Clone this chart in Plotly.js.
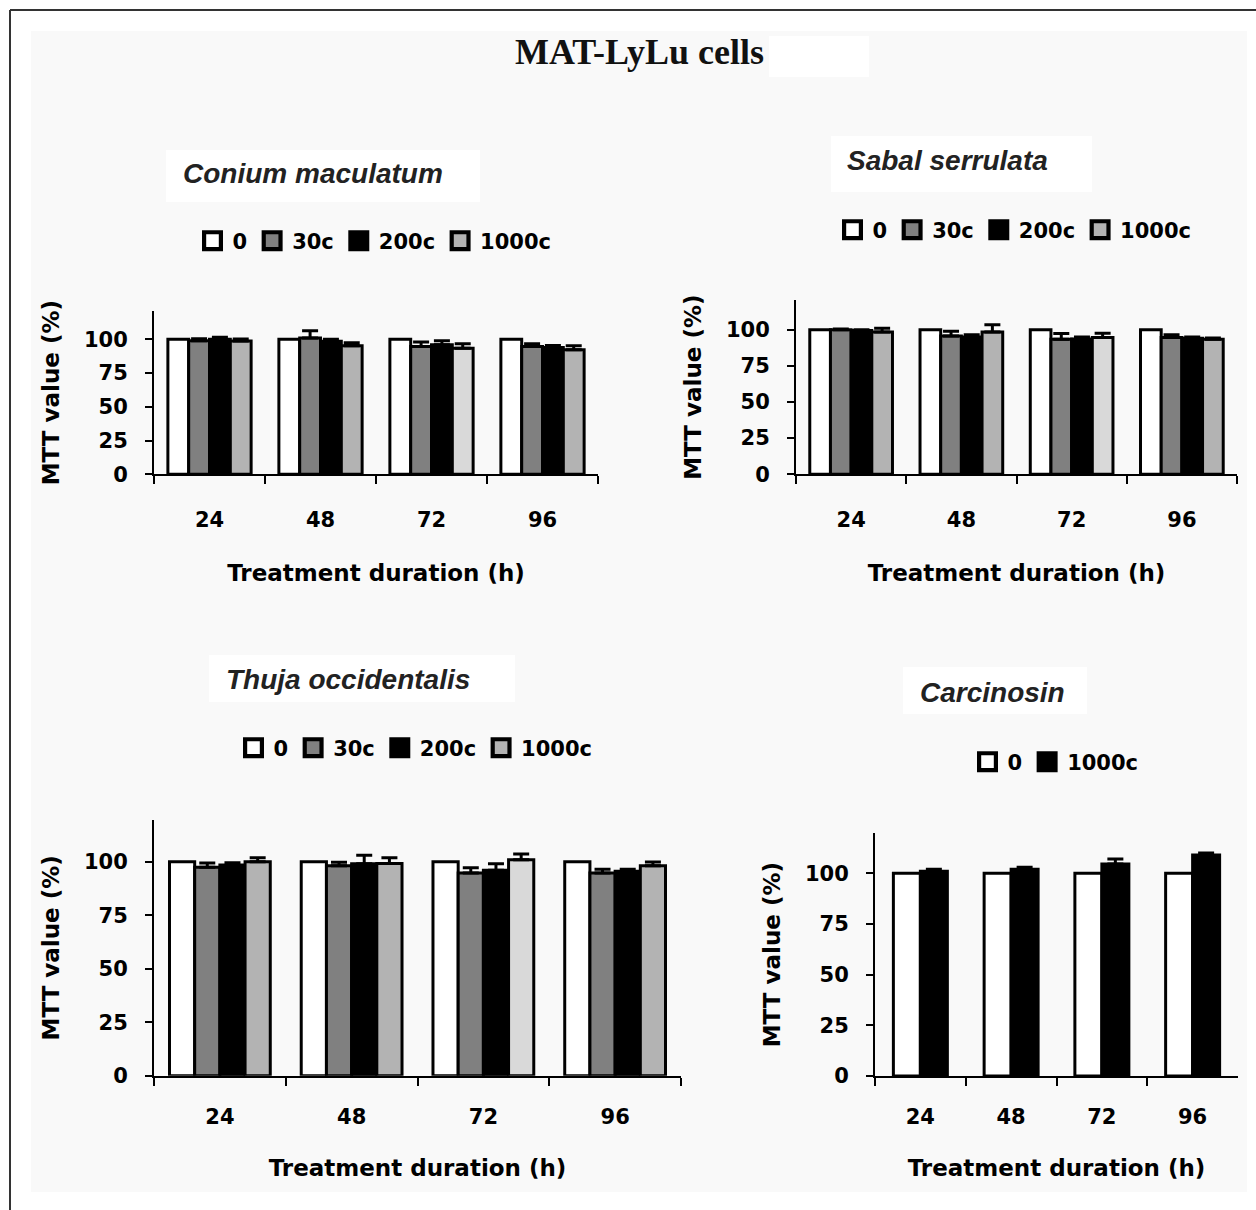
<!DOCTYPE html>
<html>
<head>
<meta charset="utf-8">
<script src="https://cdn.plot.ly/plotly-3.0.1.min.js"></script>
<style>
  html, body { margin: 0; padding: 0; background: #ffffff; }
  #chart { width: 1256px; height: 1210px; }
  .legendpoints path { transform: translate(20px, 0px) scale(1.4); }
</style>
</head>
<body>
<div id="chart"></div>
<script>
// ---------------- DATA ----------------
const mainTitle = 'MAT-LyLu cells';
const categories = ['24', '48', '72', '96'];
const doseNames4 = ['0', '30c', '200c', '1000c'];
const doseNames2 = ['0', '1000c'];

// Conium maculatum
const conium_0 = [100, 100, 100, 100];
const conium_30c = [99, 101, 94.7, 94.7];
const conium_200c = [100, 98.5, 96, 94];
const conium_1000c = [98.8, 95.2, 93.4, 92.2];
const conium_30c_err = [1.5, 5.3, 3.3, 2];
const conium_200c_err = [1.5, 1.5, 3, 1.5];
const conium_1000c_err = [1.5, 2.3, 3.3, 3];

// Sabal serrulata
const sabal_0 = [100, 100, 100, 100];
const sabal_30c = [100, 95.6, 93.3, 94.5];
const sabal_200c = [99.5, 95, 93.5, 94];
const sabal_1000c = [98.4, 98.4, 94.5, 93.3];
const sabal_30c_err = [0.5, 3.3, 4, 2];
const sabal_200c_err = [0.5, 1.5, 1.5, 1];
const sabal_1000c_err = [2.5, 5, 3, 1];

// Thuja occidentalis
const thuja_0 = [100, 100, 100, 100];
const thuja_30c = [97.4, 98.1, 94.7, 94.7];
const thuja_200c = [98.5, 99, 96, 95.5];
const thuja_1000c = [100, 99.2, 100.9, 98.1];
const thuja_30c_err = [2, 1.7, 2.5, 1.8];
const thuja_200c_err = [1, 4, 3, 1];
const thuja_1000c_err = [1.8, 2.6, 2.7, 1.8];

// Carcinosin
const carcinosin_0 = [100, 100, 100, 100];
const carcinosin_1000c = [101, 102, 104.5, 109];
const carcinosin_1000c_err = [1, 1, 2.5, 1];

const panelTitles = ['Conium maculatum', 'Sabal serrulata', 'Thuja occidentalis', 'Carcinosin'];
const xTitle = 'Treatment duration (h)';
const yTitle = 'MTT value (%)';
const yTickVals = [0, 25, 50, 75, 100];

// ---------------- LAYOUT HELPERS ----------------
const W = 1256, H = 1210;
const fx = px => px / W;
const fy = py => 1 - py / H;

const WHITE = '#ffffff', GRAY = '#808080', BLACK = '#000000', LIGHT = '#b3b3b3', LIGHTER = '#d9d9d9';
const TXT = "DejaVu Sans";

// panel boxes (pixels): plot area left, right, top, bottom, y max, group fraction
const panels = [
  {l: 154, r: 598, t: 311, b: 474.3, ymax: 121, g: 0.75, leg: [374.5, 241], tstand: 25, xstand: 34},
  {l: 796, r: 1237, t: 300, b: 474.3, ymax: 120.5, g: 0.75, leg: [1014.5, 230], tstand: 25, xstand: 34},
  {l: 154, r: 681, t: 820, b: 1075.7, ymax: 119.5, g: 0.765, leg: [415.5, 748], tstand: 21, xstand: 32},
  {l: 875, r: 1238, t: 833.3, b: 1076, ymax: 119.7, g: 0.595, leg: [1055.5, 762], tstand: 21, xstand: 32}
];

const panelSeries = [
  {names: doseNames4, vals: [conium_0, conium_30c, conium_200c, conium_1000c],
   errs: [null, conium_30c_err, conium_200c_err, conium_1000c_err],
   colors: [WHITE, GRAY, BLACK, [LIGHT, LIGHT, LIGHTER, LIGHT]]},
  {names: doseNames4, vals: [sabal_0, sabal_30c, sabal_200c, sabal_1000c],
   errs: [null, sabal_30c_err, sabal_200c_err, sabal_1000c_err],
   colors: [WHITE, GRAY, BLACK, [LIGHT, LIGHT, LIGHTER, LIGHT]]},
  {names: doseNames4, vals: [thuja_0, thuja_30c, thuja_200c, thuja_1000c],
   errs: [null, thuja_30c_err, thuja_200c_err, thuja_1000c_err],
   colors: [WHITE, GRAY, BLACK, [LIGHT, LIGHT, LIGHTER, LIGHT]]},
  {names: doseNames2, vals: [carcinosin_0, carcinosin_1000c],
   errs: [null, carcinosin_1000c_err],
   colors: [WHITE, BLACK]}
];

const traces = [];
const layout = {
  width: W, height: H,
  margin: {l: 0, r: 0, t: 0, b: 0, pad: 0, autoexpand: false},
  paper_bgcolor: '#ffffff',
  plot_bgcolor: 'rgba(0,0,0,0)',
  barmode: 'overlay',
  showlegend: true,
  font: {family: TXT, color: '#000'},
  shapes: [],
  annotations: []
};

panels.forEach((p, i) => {
  const n = i + 1;
  const xa = n === 1 ? 'x' : 'x' + n;
  const ya = n === 1 ? 'y' : 'y' + n;
  const legName = n === 1 ? 'legend' : 'legend' + n;
  const ser = panelSeries[i];
  const k = ser.vals.length;
  const bw = p.g / k;
  ser.vals.forEach((v, j) => {
    const tr = {
      type: 'bar', x: categories, y: v, name: ser.names[j],
      xaxis: xa, yaxis: ya, legend: legName,
      width: bw, offset: -p.g / 2 + j * bw,
      marker: {color: ser.colors[j], line: {color: '#000', width: 3}},
      hoverinfo: 'x+y+name'
    };
    if (ser.errs[j]) {
      tr.error_y = {type: 'data', symmetric: false, array: ser.errs[j],
                    arrayminus: ser.errs[j].map(() => 0),
                    color: '#000', thickness: 3, width: 8};
    }
    traces.push(tr);
  });

  const dx = [fx(p.l), fx(p.r)];
  const dy = [fy(p.b), fy(p.t)];
  layout['xaxis' + (n === 1 ? '' : n)] = {
    domain: dx, anchor: ya, type: 'category', range: [-0.5, 3.5],
    showline: true, linecolor: '#000', linewidth: 2, mirror: false,
    ticks: 'outside', tickson: 'boundaries', ticklen: 8, tickwidth: 2, tickcolor: '#000',
    showgrid: false, zeroline: false,
    tickfont: {family: TXT, size: 21, color: '#000', weight: 'bold'},
    ticklabelstandoff: p.tstand,
    automargin: false,
    title: {text: xTitle, font: {family: TXT, size: 23, color: '#000', weight: 'bold'}, standoff: p.xstand}
  };
  layout['yaxis' + (n === 1 ? '' : n)] = {
    domain: dy, anchor: xa, range: [0, p.ymax],
    tickvals: yTickVals, ticktext: yTickVals.map(String),
    showline: true, linecolor: '#000', linewidth: 2,
    ticks: 'outside', ticklen: 7, tickwidth: 2, tickcolor: '#000',
    showgrid: false, zeroline: false,
    tickfont: {family: TXT, size: 21, color: '#000', weight: 'bold'},
    ticklabelstandoff: 13,
    automargin: false,
    title: {text: yTitle, font: {family: TXT, size: 23, color: '#000', weight: 'bold'}, standoff: 18}
  };
  layout[legName] = {
    orientation: 'h', x: fx(p.leg[0]), y: fy(p.leg[1]), xanchor: 'center', yanchor: 'middle',
    bgcolor: 'rgba(0,0,0,0)', borderwidth: 0, traceorder: 'normal',
    font: {family: TXT, size: 21, color: '#000', weight: 'bold'}
  };
});

// background & frame
layout.shapes.push(
  {type: 'rect', xref: 'paper', yref: 'paper', x0: fx(31), x1: fx(1247), y0: fy(1192), y1: fy(31),
   fillcolor: '#f9f9f9', line: {width: 0}, layer: 'below'},
  {type: 'line', xref: 'paper', yref: 'paper', x0: fx(10), x1: fx(1256), y0: fy(10), y1: fy(10),
   line: {color: '#333', width: 2}, layer: 'below'},
  {type: 'line', xref: 'paper', yref: 'paper', x0: fx(10), x1: fx(10), y0: fy(10), y1: fy(1210),
   line: {color: '#333', width: 2}, layer: 'below'},
  {type: 'rect', xref: 'paper', yref: 'paper', x0: fx(769), x1: fx(869), y0: fy(77), y1: fy(36),
   fillcolor: '#ffffff', line: {width: 0}, layer: 'below'}
);

// panel title boxes & texts
const titleBoxes = [
  {x0: 166, x1: 480, y0: 150, y1: 202, tx: 181, ty: 174},
  {x0: 831, x1: 1092, y0: 136, y1: 192, tx: 845, ty: 161},
  {x0: 209, x1: 515, y0: 655, y1: 702, tx: 224, ty: 679},
  {x0: 903, x1: 1087, y0: 667, y1: 714, tx: 918, ty: 692}
];
titleBoxes.forEach((b, i) => {
  layout.shapes.push({type: 'rect', xref: 'paper', yref: 'paper',
    x0: fx(b.x0), x1: fx(b.x1), y0: fy(b.y1), y1: fy(b.y0),
    fillcolor: '#ffffff', line: {width: 0}, layer: 'below'});
  layout.annotations.push({xref: 'paper', yref: 'paper', x: fx(b.tx), y: fy(b.ty),
    xanchor: 'left', yanchor: 'middle', showarrow: false, text: panelTitles[i],
    font: {family: 'Liberation Sans', size: 28, color: '#222', weight: 'bold', style: 'italic'}});
});

layout.annotations.push({xref: 'paper', yref: 'paper', x: fx(639), y: fy(52),
  xanchor: 'center', yanchor: 'middle', showarrow: false, text: mainTitle,
  font: {family: 'Liberation Serif', size: 36, color: '#111', weight: 'bold'}});

Plotly.newPlot('chart', traces, layout, {displayModeBar: false, staticPlot: true});
</script>
</body>
</html>
